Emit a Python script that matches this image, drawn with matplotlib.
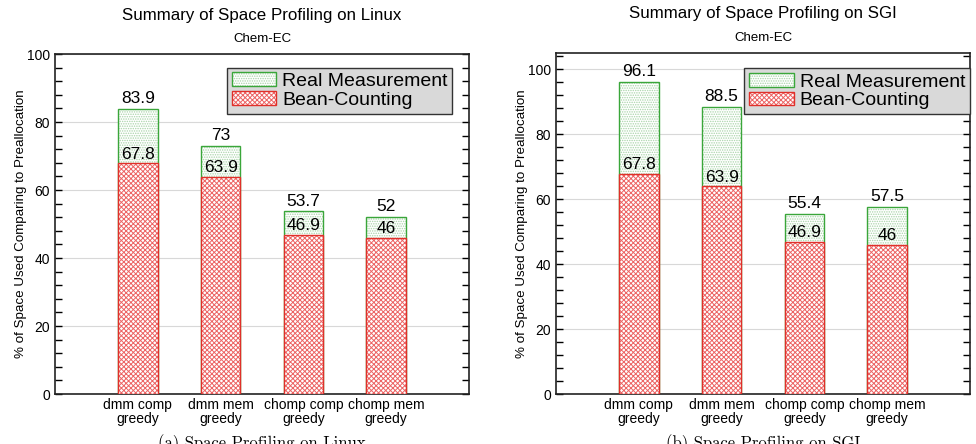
import matplotlib
matplotlib.use("Agg")
import matplotlib.pyplot as plt
from matplotlib.patches import Patch
from matplotlib.legend_handler import HandlerTuple
import numpy as np

plt.rcParams['font.family'] = ['Liberation Sans', 'DejaVu Sans']
plt.rcParams['hatch.linewidth'] = 0.7

categories = ["dmm comp\ngreedy", "dmm mem\ngreedy", "chomp comp\ngreedy", "chomp mem\ngreedy"]
bean_linux = [67.8, 63.9, 46.9, 46]
real_linux = [83.9, 73, 53.7, 52]
bean_sgi = [67.8, 63.9, 46.9, 46]
real_sgi = [96.1, 88.5, 55.4, 57.5]

titles = ["Summary of Space Profiling on Linux", "Summary of Space Profiling on SGI"]
subtitle = "Chem-EC"
captions = ["(a) Space Profiling on Linux", "(b) Space Profiling on SGI"]
ylabel = "% of Space Used Comparing to Preallocation"

green = '#3aa63a'
green_h = '#a8d4a8'
red = '#e0302a'
red_h = '#ec6464'

fig = plt.figure(figsize=(9.76, 4.44), dpi=100)
W, H = 976, 444

def px_axes(x0, x1, ytop, ybot):
    return fig.add_axes([x0 / W, 1 - ybot / H, (x1 - x0) / W, (ybot - ytop) / H])

axes = [px_axes(55, 469, 54, 394), px_axes(556, 970, 53, 394)]
ylims = [(0, 100), (0, 105)]
datasets = [(bean_linux, real_linux), (bean_sgi, real_sgi)]
legend_anchor = [(0.96, 0.96), (1.0, 0.955)]
cap_x = [262, 763]
dot_hatch = '.' * 7
x_hatch = 'x' * 7

x = np.arange(len(categories))
bw = 0.48
for i, ax in enumerate(axes):
    bean, real = datasets[i]
    ax.bar(x, real, width=bw, color='white', edgecolor=green_h, hatch=dot_hatch,
           linewidth=0, zorder=2)
    ax.bar(x, real, width=bw, fill=False, edgecolor=green, linewidth=1.0, zorder=2.5)
    ax.bar(x, bean, width=bw, color='white', edgecolor=red_h, hatch=x_hatch,
           linewidth=0, zorder=3)
    ax.bar(x, bean, width=bw, fill=False, edgecolor=red, linewidth=1.0, zorder=3.5)
    for xi, b, r in zip(x, bean, real):
        ax.annotate(f"{r:g}", (xi, r), xytext=(0, 2), textcoords='offset points',
                    ha='center', va='bottom', fontsize=12.5, zorder=5)
        ax.annotate(f"{b:g}", (xi, b), xytext=(0, 1), textcoords='offset points',
                    ha='center', va='bottom', fontsize=12.5, zorder=5)
    ax.set_xlim(-1, 4)
    ax.set_ylim(*ylims[i])
    ax.set_xticks(x)
    ax.set_xticklabels(categories, fontsize=10, linespacing=0.95)
    ax.tick_params(axis='x', length=0, pad=3)
    ax.set_yticks(np.arange(0, 101, 20))
    ax.set_yticks(np.arange(0, ylims[i][1] + 0.1, 4), minor=True)
    ax.tick_params(axis='y', which='both', direction='in', left=True, right=True,
                   labelsize=10)
    ax.tick_params(axis='y', which='major', length=5, width=1)
    ax.tick_params(axis='y', which='minor', length=5, width=1)
    ax.yaxis.grid(True, which='major', color='#d8d8d8', linewidth=0.8, zorder=0)
    ax.set_axisbelow(True)
    for s in ax.spines.values():
        s.set_linewidth(1.2)
        s.set_color('#222222')
    ax.set_ylabel(ylabel, fontsize=9.6, labelpad=0)
    ax.text(0.5, 1 + 15 / 340, subtitle, transform=ax.transAxes, ha='center',
            va='center', fontsize=9.5)
    ax.text(0.5, 1 + 39 / 340, titles[i], transform=ax.transAxes, ha='center',
            va='center', fontsize=12.2)
    h_real = (Patch(facecolor='white', edgecolor=green_h, hatch=dot_hatch, linewidth=0),
              Patch(fill=False, edgecolor=green, linewidth=1.0))
    h_bean = (Patch(facecolor='white', edgecolor=red_h, hatch=x_hatch, linewidth=0),
              Patch(fill=False, edgecolor=red, linewidth=1.0))
    leg = ax.legend([h_real, h_bean], ['Real Measurement', 'Bean-Counting'],
                    handler_map={tuple: HandlerTuple(ndivide=1, pad=0)},
                    loc='upper right', bbox_to_anchor=legend_anchor[i], fontsize=14,
                    frameon=True, fancybox=False, edgecolor='#333333', facecolor='#d9d9d9',
                    framealpha=1.0, borderpad=0.25, labelspacing=0.05, handlelength=2.3,
                    handletextpad=0.3, borderaxespad=0.0)
    leg.get_frame().set_linewidth(1.0)
    fig.text(cap_x[i] / W, 1 - 434 / H, captions[i], ha='center', va='top',
             fontsize=12, family=['cmr10', 'DejaVu Serif'])

fig.savefig('out.png', dpi=100)
